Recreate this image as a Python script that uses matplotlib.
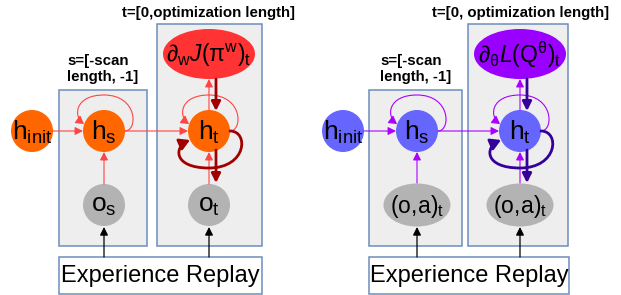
import matplotlib.pyplot as plt
from matplotlib.patches import Circle, Ellipse, Rectangle, FancyArrowPatch
from matplotlib.path import Path

plt.rcParams['font.family'] = ['Liberation Sans', 'DejaVu Sans']
plt.rcParams['mathtext.fontset'] = 'custom'
plt.rcParams['mathtext.rm'] = 'Liberation Sans'
plt.rcParams['mathtext.it'] = 'Liberation Sans:italic'
plt.rcParams['mathtext.bf'] = 'Liberation Sans:bold'

# diagram content
panel_offsets = [0, 310]
init_labels = [r'$\mathrm{h}_{\mathrm{init}}$', r'$\mathrm{h}_{\mathrm{init}}$']
scan_labels = [r'$\mathrm{h}_{\mathrm{s}}$', r'$\mathrm{h}_{\mathrm{s}}$']
opt_labels = [r'$\mathrm{h}_{\mathrm{t}}$', r'$\mathrm{h}_{\mathrm{t}}$']
obs_scan_labels = [r'$\mathrm{o}_{\mathrm{s}}$', r'$\mathrm{(o,\!a)}_{\mathrm{t}}$']
obs_opt_labels = [r'$\mathrm{o}_{\mathrm{t}}$', r'$\mathrm{(o,\!a)}_{\mathrm{t}}$']
loss_labels = [r'$\mathit{∂}_{\mathrm{w}}\mathit{J}(\mathrm{π}^{\mathrm{w}})_{\mathrm{t}}$',
               r'$\mathit{∂}_{\mathrm{θ}}\mathit{L}(\mathrm{Q}^{\mathrm{θ}})_{\mathrm{t}}$']
opt_titles = ['t=[0,optimization length]', 't=[0, optimization length]']
scan_title = 's=[-scan\nlength, -1]'
replay_label = 'Experience Replay'

node_colors = ['#FF6600', '#6666FF']
loss_colors = ['#FF3333', '#9900FF']
light_arrow = ['#FF4444', '#AA00FF']
dark_arrow = ['#A00000', '#330099']
gray = '#B3B3B3'
box_fill = '#EEEEEE'
box_edge = '#6C8EBF'


def arrow(ax, p0, p1, color, lw=0.8, head=8):
    a = FancyArrowPatch(p0, p1, arrowstyle='-|>,head_length=0.6,head_width=0.3',
                        mutation_scale=head, color=color, lw=lw,
                        shrinkA=0, shrinkB=0, zorder=5)
    ax.add_patch(a)


def path_arrow(ax, verts, codes, color, lw, head):
    a = FancyArrowPatch(path=Path(verts, codes),
                        arrowstyle='-|>,head_length=0.6,head_width=0.35',
                        mutation_scale=head, color=color, lw=lw, zorder=5)
    ax.add_patch(a)


def self_loop(ax, cx, cy, r, color):
    verts = [(cx + r, cy), (cx + r + 13, cy), (cx + r + 13, cy - 36), (cx, cy - 36),
             (cx - 29, cy - 36), (cx - 31, cy - 15), (cx - r + 1, cy - 7)]
    codes = [Path.MOVETO] + [Path.CURVE4] * 6
    path_arrow(ax, verts, codes, color, 0.8, 8)


def back_loop(ax, cx, cy, r, color):
    verts = [(cx + r, cy), (cx + 40, cy), (cx + 38, cy + 37), (cx, cy + 37),
             (cx - 36, cy + 37), (cx - 35, cy + 16), (cx - r + 2, cy + 9)]
    codes = [Path.MOVETO] + [Path.CURVE4] * 6
    path_arrow(ax, verts, codes, color, 2.0, 10)


fig = plt.figure(figsize=(6.21, 2.95), dpi=100)
ax = fig.add_axes([0, 0, 1, 1])
ax.set_xlim(0, 621)
ax.set_ylim(295, 0)
ax.axis('off')

for k, dx in enumerate(panel_offsets):
    wide = k == 1
    hs_x = 104 + dx + (3 if wide else 0)
    ht_x = 209 + dx + (1 if wide else 0)
    hi_x = 32 + dx + (1 if wide else 0)
    hy = 131
    oy = 205
    r = 21
    s_box = (59 + dx, 90, (93 if wide else 88), 156)
    t_box = (157 + dx + (1 if wide else 0), 24, (100 if wide else 105), 222)

    ax.add_patch(Rectangle(s_box[:2], s_box[2], s_box[3], fc=box_fill, ec=box_edge, lw=1.1, zorder=1))
    ax.add_patch(Rectangle(t_box[:2], t_box[2], t_box[3], fc=box_fill, ec=box_edge, lw=1.1, zorder=1))
    er_w = 200 if wide else 203
    ax.add_patch(Rectangle((59 + dx, 257), er_w, 37, fc='white', ec=box_edge, lw=1.1, zorder=1))
    ax.text(59 + dx + er_w / 2, 276, replay_label, fontsize=17, ha='center', va='center', zorder=6)

    ax.text(ht_x + (1 if wide else 0), 13, opt_titles[k], fontsize=10.8, fontweight='bold',
            ha='center', va='center')
    ax.text(67 + dx + (3 if wide else 0), 69, scan_title, fontsize=10.8, fontweight='bold',
            ha='left', va='center', linespacing=1.15)

    # nodes
    for x, lab in [(hi_x, init_labels[k]), (hs_x, scan_labels[k]), (ht_x, opt_labels[k])]:
        ax.add_patch(Circle((x, hy), r, fc=node_colors[k], ec='none', zorder=3))
        ax.text(x, hy + 1, lab, fontsize=19, ha='center', va='center', zorder=6)
    if wide:
        ax.add_patch(Ellipse((hs_x, oy), 67, 43, fc=gray, ec='none', zorder=3))
        ax.add_patch(Ellipse((ht_x, oy), 67, 43, fc=gray, ec='none', zorder=3))
    else:
        ax.add_patch(Circle((hs_x, oy), r, fc=gray, ec='none', zorder=3))
        ax.add_patch(Circle((ht_x, oy), r, fc=gray, ec='none', zorder=3))
    fs_obs = 16.5 if wide else 19
    ax.text(hs_x, oy + 1, obs_scan_labels[k], fontsize=fs_obs, ha='center', va='center', zorder=6)
    ax.text(ht_x, oy + 1, obs_opt_labels[k], fontsize=fs_obs, ha='center', va='center', zorder=6)

    ax.add_patch(Ellipse((ht_x, 54), 92, 50, fc=loss_colors[k], ec='none', zorder=3))
    ax.text(ht_x, 55, loss_labels[k], fontsize=16.5, ha='center', va='center', zorder=6)

    # light arrows
    lc = light_arrow[k]
    arrow(ax, (hi_x + r, hy), (hs_x - r, hy), lc)
    arrow(ax, (hs_x + r, hy), (ht_x - r, hy), lc)
    arrow(ax, (hs_x, oy - r - (1 if wide else 0)), (hs_x, hy + r), lc)
    arrow(ax, (ht_x, oy - r - (1 if wide else 0)), (ht_x, hy + r), lc)
    arrow(ax, (ht_x, hy - r), (ht_x, 79), lc)
    self_loop(ax, hs_x, hy, r, lc)
    self_loop(ax, ht_x, hy, r, lc)

    # dark arrows
    dc = dark_arrow[k]
    arrow(ax, (ht_x + 7, 79), (ht_x + 7, hy - r + 1), dc, lw=2.0, head=9)
    arrow(ax, (ht_x + 7, hy + r - 2), (ht_x + 7, oy - r - 1), dc, lw=2.0, head=9)
    back_loop(ax, ht_x, hy, r, dc)

    # replay arrows
    arrow(ax, (hs_x, 257), (hs_x, 227), 'black', lw=0.9)
    arrow(ax, (ht_x, 257), (ht_x, 227), 'black', lw=0.9)

fig.savefig('out.png', dpi=100)
plt.close('all')
